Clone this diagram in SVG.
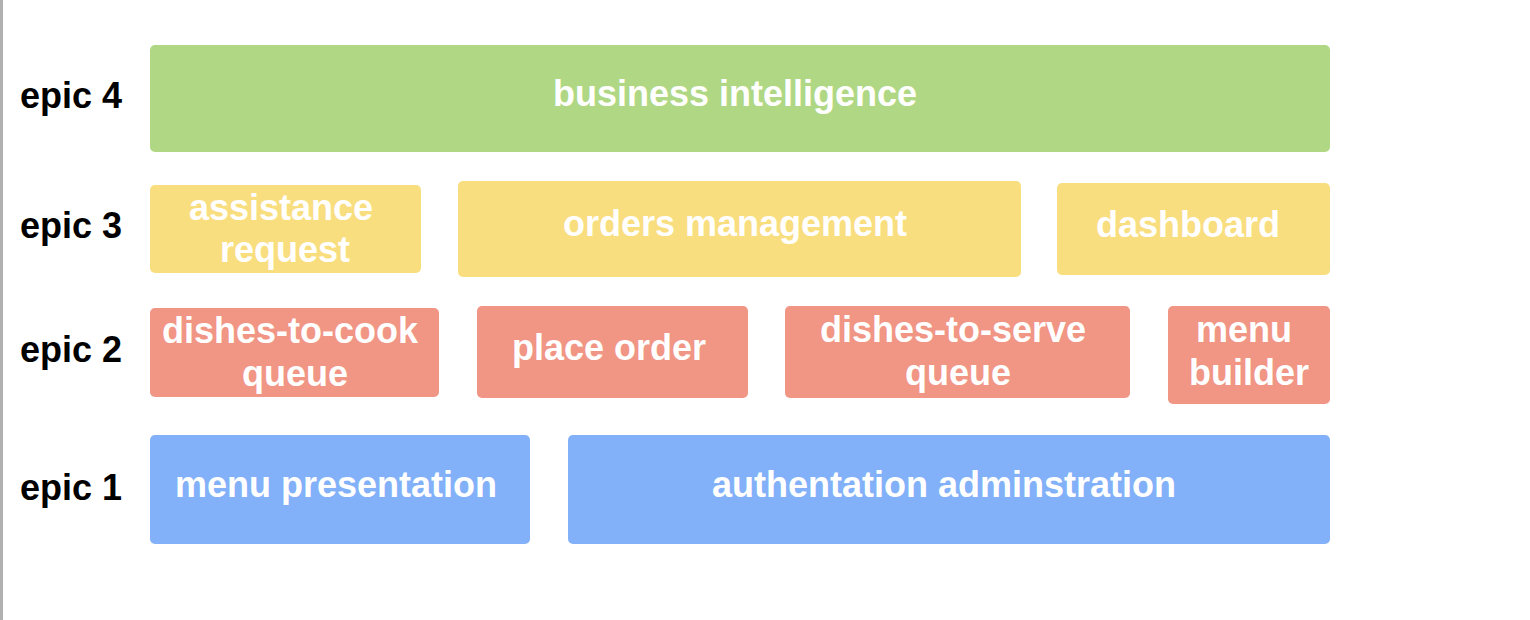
<svg xmlns="http://www.w3.org/2000/svg" width="1530" height="620" viewBox="0 0 1530 620">
<style>
.lbl{font-family:"Liberation Sans",Arial,sans-serif;font-weight:bold;font-size:36px;fill:#000}
.t{font-family:"Liberation Sans",Arial,sans-serif;font-weight:bold;font-size:36px;fill:#fff;text-anchor:middle}
.g{fill:#b0d884}.y{fill:#f9de80}.r{fill:#f19585}.b{fill:#82b1f9}
</style>
<rect x="0" y="0" width="1530" height="620" fill="#fff"/>
<rect x="0" y="0" width="3" height="620" fill="#b0b0b0"/>
<g id="labels">
<text class="lbl" x="20" y="108">epic 4</text>
<text class="lbl" x="20" y="238">epic 3</text>
<text class="lbl" x="20" y="362">epic 2</text>
<text class="lbl" x="20" y="500">epic 1</text>
</g>
<g id="connectors"></g>
<g id="business-intelligence"><rect class="g" x="150" y="45" width="1180" height="107" rx="5"/><text class="t" x="735" y="106">business intelligence</text></g>
<g id="assistance-request"><rect class="y" x="150" y="185" width="271" height="88" rx="5"/><text class="t" x="281" y="220">assistance</text><text class="t" x="285" y="262">request</text></g>
<g id="orders-management"><rect class="y" x="458" y="181" width="563" height="96" rx="5"/><text class="t" x="735" y="236">orders management</text></g>
<g id="dashboard"><rect class="y" x="1057" y="183" width="273" height="92" rx="5"/><text class="t" x="1188" y="237">dashboard</text></g>
<g id="dishes-to-cook-queue"><rect class="r" x="150" y="308" width="289" height="89" rx="5"/><text class="t" x="290" y="343">dishes-to-cook</text><text class="t" x="295" y="386">queue</text></g>
<g id="place-order"><rect class="r" x="477" y="306" width="271" height="92" rx="5"/><text class="t" x="609" y="360">place order</text></g>
<g id="dishes-to-serve-queue"><rect class="r" x="785" y="306" width="345" height="92" rx="5"/><text class="t" x="953" y="342">dishes-to-serve</text><text class="t" x="958" y="385">queue</text></g>
<g id="menu-builder"><rect class="r" x="1168" y="306" width="162" height="98" rx="5"/><text class="t" x="1244" y="342">menu</text><text class="t" x="1249" y="385">builder</text></g>
<g id="menu-presentation"><rect class="b" x="150" y="435" width="380" height="109" rx="5"/><text class="t" x="336" y="497">menu presentation</text></g>
<g id="authentation-adminstration"><rect class="b" x="568" y="435" width="762" height="109" rx="5"/><text class="t" x="944" y="497">authentation adminstration</text></g>
</svg>
